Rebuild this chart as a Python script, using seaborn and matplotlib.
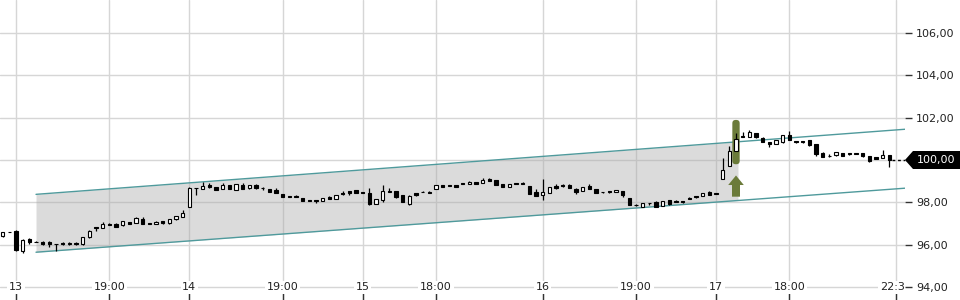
import numpy as np
import pandas as pd
import seaborn as sns
import matplotlib
matplotlib.use("Agg")
import matplotlib.pyplot as plt
from matplotlib.patches import Polygon, FancyBboxPatch
from matplotlib.ticker import FuncFormatter
import matplotlib.transforms as mtransforms

# ---------------- data ----------------
opens = [96.40, 96.59, 96.67, 95.70, 96.27, 96.13, 96.15, 96.15, 96.04, 96.07,
         96.02, 96.10, 96.02, 96.35, 96.83, 96.81, 97.00, 97.00, 96.92, 97.06,
         97.04, 97.22, 97.01, 96.98, 97.12, 97.01, 97.20, 97.33, 97.77, 98.68,
         98.63, 98.82, 98.71, 98.62, 98.82, 98.58, 98.82, 98.66, 98.82, 98.66,
         98.63, 98.58, 98.40, 98.28, 98.27, 98.22, 98.08, 98.09, 98.08, 98.27,
         98.18, 98.46, 98.52, 98.58, 98.46, 98.46, 97.94, 98.11, 98.55, 98.52,
         98.36, 97.91, 98.43, 98.48, 98.50, 98.62, 98.82, 98.77, 98.82, 98.88,
         98.88, 98.95, 98.93, 99.09, 99.06, 98.87, 98.74, 98.88, 98.88, 98.77,
         98.50, 98.36, 98.43, 98.79, 98.79, 98.84, 98.63, 98.55, 98.79, 98.63,
         98.50, 98.50, 98.48, 98.54, 98.19, 97.88, 97.80, 97.96, 98.00, 97.84,
         98.11, 98.03, 98.04, 98.18, 98.27, 98.30, 98.48, 98.40, 99.09, 99.73,
         100.42, 101.12, 101.10, 101.26, 101.02, 100.86, 100.75, 100.83, 101.20, 100.90,
         100.90, 100.94, 100.74, 100.33, 100.20, 100.22, 100.34, 100.29, 100.30, 100.33,
         100.19, 100.12, 100.10, 100.24]
highs = [96.62, 96.60, 96.70, 96.27, 96.34, 96.20, 96.16, 96.17, 96.05, 96.15,
         96.11, 96.11, 96.36, 96.68, 96.84, 97.06, 97.04, 97.01, 97.12, 97.07,
         97.30, 97.30, 97.03, 97.10, 97.13, 97.23, 97.37, 97.64, 98.72, 98.69,
         98.98, 98.90, 98.72, 98.90, 98.83, 98.86, 98.90, 98.83, 98.88, 98.72,
         98.64, 98.66, 98.41, 98.29, 98.33, 98.23, 98.09, 98.10, 98.22, 98.28,
         98.34, 98.52, 98.53, 98.59, 98.47, 98.66, 98.16, 98.83, 98.70, 98.53,
         98.37, 98.33, 98.44, 98.52, 98.55, 98.83, 98.83, 98.78, 98.83, 98.93,
         98.99, 98.96, 99.15, 99.15, 99.07, 98.88, 98.88, 98.93, 98.95, 98.78,
         98.62, 99.10, 98.72, 98.85, 98.85, 98.85, 98.70, 98.72, 98.88, 98.64,
         98.51, 98.56, 98.59, 98.55, 98.20, 97.93, 97.97, 97.97, 98.06, 98.08,
         98.12, 98.10, 98.05, 98.25, 98.32, 98.44, 98.52, 98.41, 100.11, 100.67,
         101.26, 101.33, 101.40, 101.27, 101.10, 100.87, 100.95, 101.19, 101.36, 100.91,
         100.91, 100.95, 100.75, 100.38, 100.26, 100.39, 100.35, 100.34, 100.31, 100.34,
         100.20, 100.13, 100.47, 100.25]
lows = [96.36, 96.58, 95.70, 95.60, 96.04, 96.11, 96.01, 95.90, 95.72, 96.01,
        96.01, 96.01, 96.01, 96.34, 96.67, 96.80, 96.94, 96.85, 96.91, 96.98,
        97.03, 96.99, 96.96, 96.97, 97.00, 97.00, 97.19, 97.32, 97.76, 98.35,
        98.62, 98.67, 98.57, 98.61, 98.61, 98.57, 98.63, 98.65, 98.65, 98.60,
        98.49, 98.42, 98.26, 98.25, 98.26, 98.07, 98.07, 97.98, 98.07, 98.16,
        98.17, 98.35, 98.36, 98.42, 98.45, 97.86, 97.93, 98.03, 98.47, 98.22,
        98.02, 97.90, 98.30, 98.47, 98.45, 98.61, 98.71, 98.76, 98.73, 98.87,
        98.87, 98.86, 98.92, 99.01, 98.81, 98.73, 98.73, 98.87, 98.87, 98.39,
        98.31, 98.10, 98.42, 98.62, 98.73, 98.66, 98.40, 98.54, 98.62, 98.42,
        98.46, 98.45, 98.47, 98.27, 97.87, 97.84, 97.79, 97.90, 97.79, 97.83,
        97.90, 98.02, 97.96, 98.17, 98.22, 98.29, 98.33, 98.39, 99.08, 99.72,
        100.41, 101.09, 101.09, 101.06, 100.83, 100.62, 100.74, 100.82, 100.92, 100.82,
        100.82, 100.68, 100.17, 100.12, 100.16, 100.21, 100.18, 100.24, 100.29, 100.16,
        99.92, 100.04, 100.09, 99.68]
closes = [96.59, 96.59, 95.74, 96.23, 96.12, 96.12, 96.03, 96.02, 96.02, 96.02,
          96.10, 96.02, 96.35, 96.67, 96.80, 96.97, 96.95, 96.86, 97.11, 97.00,
          97.26, 97.00, 96.99, 97.09, 97.01, 97.22, 97.36, 97.49, 98.67, 98.66,
          98.79, 98.74, 98.58, 98.82, 98.62, 98.85, 98.64, 98.82, 98.66, 98.66,
          98.50, 98.43, 98.27, 98.26, 98.27, 98.08, 98.08, 98.06, 98.21, 98.17,
          98.33, 98.38, 98.46, 98.43, 98.46, 97.92, 98.15, 98.55, 98.48, 98.27,
          98.03, 98.32, 98.35, 98.48, 98.46, 98.82, 98.72, 98.77, 98.74, 98.88,
          98.98, 98.87, 99.06, 99.02, 98.82, 98.74, 98.87, 98.88, 98.88, 98.40,
          98.32, 98.49, 98.71, 98.69, 98.79, 98.67, 98.49, 98.71, 98.63, 98.43,
          98.47, 98.50, 98.58, 98.35, 97.88, 97.87, 97.96, 97.95, 97.80, 98.07,
          97.91, 98.03, 98.02, 98.18, 98.27, 98.43, 98.34, 98.40, 99.53, 100.42,
          100.99, 101.10, 101.31, 101.08, 100.84, 100.75, 100.93, 101.17, 100.93, 100.83,
          100.83, 100.69, 100.29, 100.16, 100.18, 100.37, 100.19, 100.29, 100.30, 100.17,
          99.93, 100.05, 100.23, 100.00]

tick_positions = [2, 16, 28, 42, 54, 65, 81, 95, 107, 118, 134]
tick_labels = ["13", "19:00", "14", "19:00", "15", "18:00", "16", "19:00", "17", "18:00", "22:30"]
y_ticks = [94, 96, 98, 100, 102, 104, 106]

channel_x = [5, 135.35]
channel_upper = [98.38, 101.45]
channel_lower = [95.65, 98.67]
fill_end = 110.3
signal_index = 110

# ---------------- style ----------------
sns.set_theme(style="white")
plt.rcParams['font.family'] = ['DejaVu Sans']
plt.rcParams['font.size'] = 8

fig = plt.figure(figsize=(9.6, 3.0), dpi=100)
ax = fig.add_axes([0, 0, 905 / 960, 1])

n = len(closes)
idx = np.arange(n)
df = pd.DataFrame({"i": idx, "open": opens, "high": highs, "low": lows, "close": closes})

XMIN, XMAX = -0.4, 135.35
YMIN, YMAX = 93.396, 107.547
ax.set_xlim(XMIN, XMAX)
ax.set_ylim(YMIN, YMAX)

# grid
grid_c = "#d6d6d6"
for yv in y_ticks:
    ax.axhline(yv, color=grid_c, lw=1, zorder=0)
for xv in tick_positions:
    ax.axvline(xv, color=grid_c, lw=1, zorder=0)

# channel fill
fx = np.linspace(channel_x[0], fill_end, 50)
fu = np.interp(fx, channel_x, channel_upper)
fl = np.interp(fx, channel_x, channel_lower)
ax.fill_between(fx, fl, fu, color="#aaaaaa", alpha=0.42, lw=0, zorder=0.5)

# channel lines via seaborn
ch = pd.DataFrame({"x": channel_x * 2,
                   "y": channel_upper + channel_lower,
                   "band": ["upper", "upper", "lower", "lower"]})
sns.lineplot(data=ch, x="x", y="y", units="band", estimator=None,
             color="#4f9a9c", lw=1, ax=ax, zorder=1)

# highlight on signal candle
hl = FancyBboxPatch((signal_index - 0.55, 99.80), 1.1, 101.89 - 99.80,
                    boxstyle="round,pad=0,rounding_size=0.5",
                    mutation_aspect=0.3145, fc="#6b7b3a", ec="none", zorder=1.5)
ax.add_patch(hl)

# arrow below signal candle
arr = Polygon([(signal_index, 99.27), (signal_index + 1.17, 98.82),
               (signal_index + 0.6, 98.82), (signal_index + 0.6, 98.27),
               (signal_index - 0.6, 98.27), (signal_index - 0.6, 98.82),
               (signal_index - 1.17, 98.82)],
              closed=True, fc="#6b7b3a", ec="none", zorder=1.5)
ax.add_patch(arr)

# candles
ax.vlines(df["i"], df["low"], df["high"], color="black", lw=0.9, zorder=2)
up = df["close"] > df["open"]
bottom = np.minimum(df["open"], df["close"])
height = np.maximum(np.abs(df["close"] - df["open"]), 0.03)
ax.bar(df["i"][up], height[up], bottom=bottom[up], width=0.5,
       color="white", edgecolor="black", linewidth=0.8, zorder=3)
ax.bar(df["i"][~up], height[~up], bottom=bottom[~up], width=0.5,
       color="black", edgecolor="black", linewidth=0.8, zorder=3)

# last price dashed line
last = closes[-1]
ax.plot([n - 1 + 0.4, XMAX], [last, last], color="black", lw=1,
        ls=(0, (2, 2)), zorder=2)

# axes styling
for s in ax.spines.values():
    s.set_visible(False)
ax.set_xlabel("")
ax.set_ylabel("")
ax.yaxis.tick_right()
ax.set_yticks(y_ticks)
ax.yaxis.set_major_formatter(FuncFormatter(lambda v, p: f"{v:.2f}".replace(".", ",")))
ax.tick_params(axis="y", direction="out", length=5, width=1, color="#333333",
               pad=3, labelsize=8, labelcolor="#222222", right=True, left=False)
ax.set_xticks(tick_positions)
ax.set_xticklabels([])
ax.tick_params(axis="x", direction="in", length=5, width=1, color="#333333", bottom=True)

for xv, lab in zip(tick_positions, tick_labels):
    ax.text(xv, 94.0, lab, ha="center", va="center", fontsize=8, color="#222222",
            bbox=dict(fc="white", ec="none", pad=1.2), clip_on=True, zorder=4)

# last price label box
trans = mtransforms.blended_transform_factory(fig.transFigure, ax.transData)
hh = 9 / 21.2
x0, x1, x2 = 905 / 960, 913 / 960, 1.0
box = Polygon([(x0, last), (x1, last + hh), (x2, last + hh), (x2, last - hh), (x1, last - hh)],
              closed=True, fc="black", ec="none", transform=trans, clip_on=False, zorder=5)
ax.add_patch(box)
ax.text(936 / 960, last, f"{last:.2f}".replace(".", ","), transform=trans,
        ha="center", va="center", color="white", fontsize=8, zorder=6, clip_on=False)

fig.savefig("out.png", dpi=100)
